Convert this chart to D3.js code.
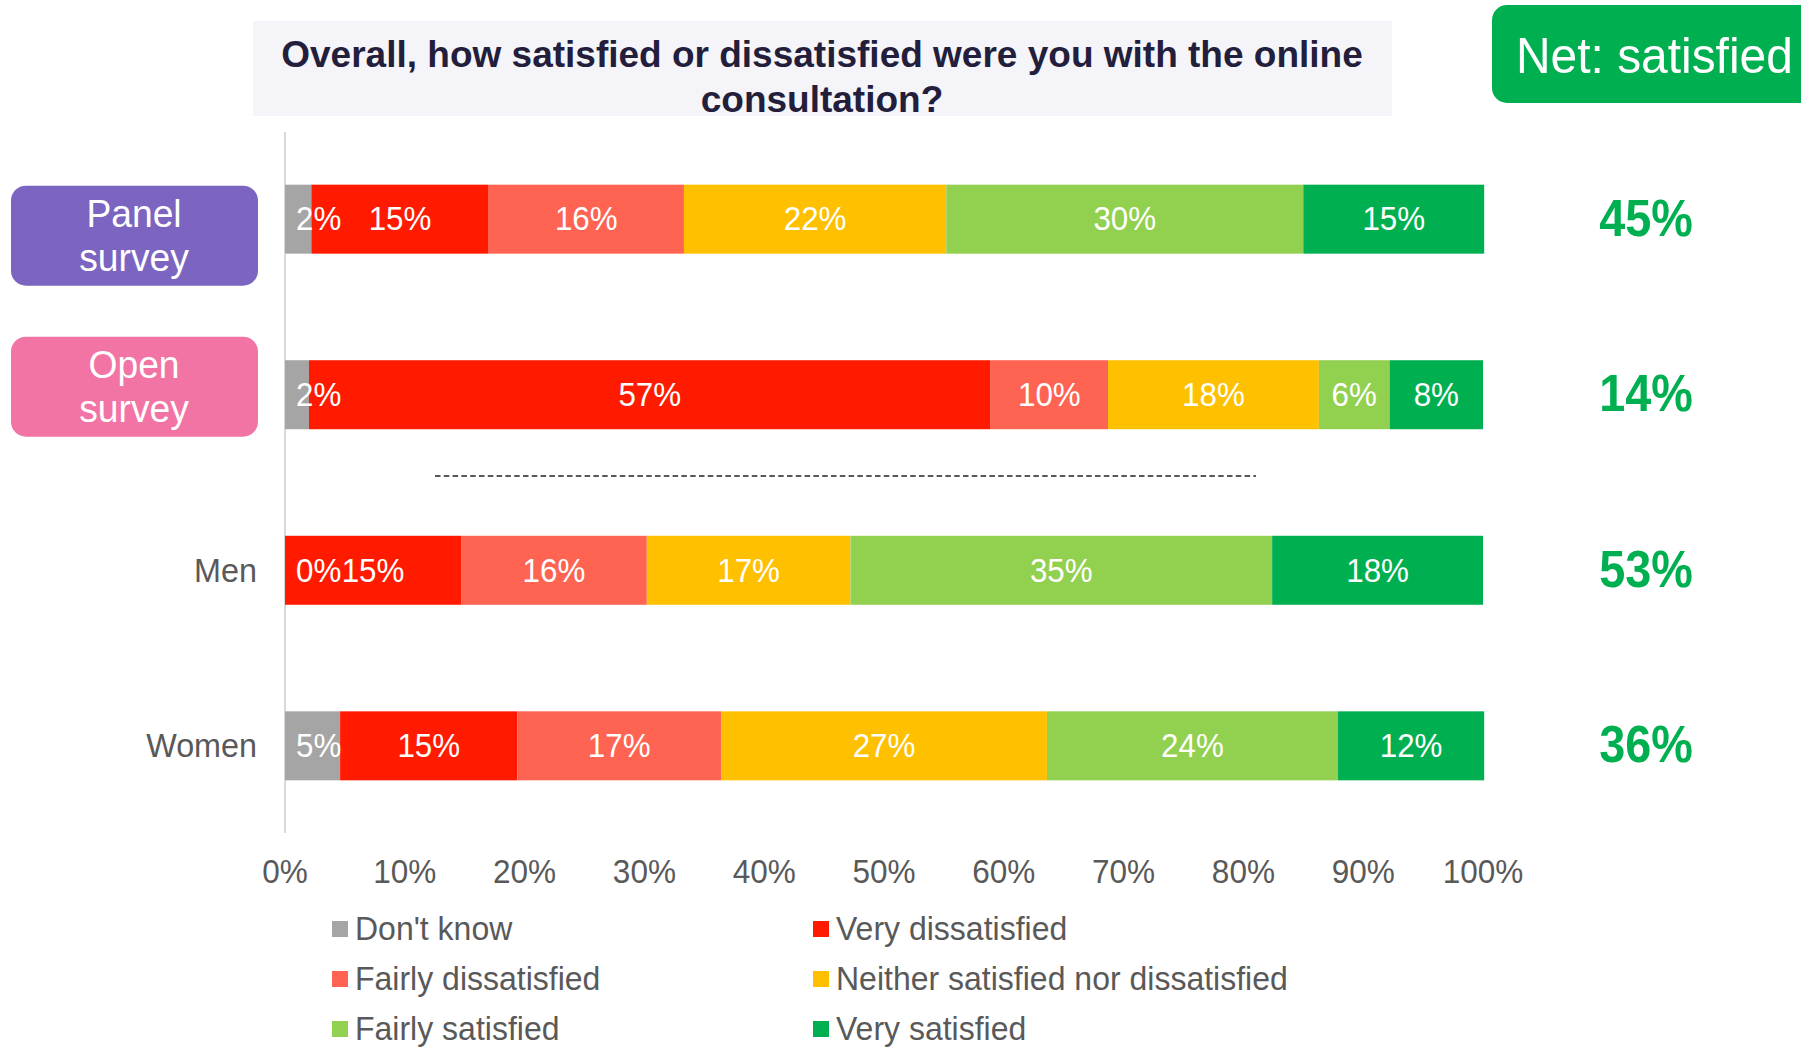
<!DOCTYPE html>
<html>
<head>
<meta charset="utf-8">
<script src="https://cdn.jsdelivr.net/npm/d3@7"></script>
<style>
  html, body { margin: 0; padding: 0; background: #ffffff; }
  svg { display: block; }
  text { font-family: "Liberation Sans", Arial, sans-serif; }
</style>
</head>
<body>
<svg id="chart" width="1801" height="1050"></svg>
<script>
// ---------------- DATA ----------------
const categories = ["Panel survey", "Open survey", "Men", "Women"];
const seriesNames = ["Don't know", "Very dissatisfied", "Fairly dissatisfied",
  "Neither satisfied nor dissatisfied", "Fairly satisfied", "Very satisfied"];
const dontKnow           = [2.2, 2.0, 0.0, 4.6];
const veryDissatisfied   = [14.8, 56.9, 14.7, 14.8];
const fairlyDissatisfied = [16.3, 9.8, 15.5, 17.0];
const neitherNor         = [21.9, 17.6, 17.0, 27.2];
const fairlySatisfied    = [29.8, 5.9, 35.2, 24.3];
const verySatisfied      = [15.1, 7.8, 17.6, 12.2];
const netSatisfied       = [45, 14, 53, 36];
const tickValues         = [0, 10, 20, 30, 40, 50, 60, 70, 80, 90, 100];
const titleLines = ["Overall, how satisfied or dissatisfied were you with the online", "consultation?"];
const netTitle = "Net: satisfied";

// ---------------- STYLE ----------------
const colors = ["#a5a5a5", "#ff1a00", "#ff6352", "#ffc000", "#92d050", "#00b050"];
const SX = 0.96; // horizontal compression of text to mimic the reference rendering

const seriesArrays = [dontKnow, veryDissatisfied, fairlyDissatisfied, neitherNor, fairlySatisfied, verySatisfied];
const table = categories.map((c, i) => {
  const row = { category: c };
  seriesNames.forEach((s, j) => { row[s] = seriesArrays[j][i]; });
  return row;
});

const svg = d3.select("#chart");

const x = d3.scaleLinear().domain([0, 100]).range([285, 1483]);
const y = d3.scaleBand().domain(categories).range([132, 833]).paddingInner(0.607).paddingOuter(0.3);

function addText(parent, px, py, str, opts) {
  const sx = opts.sx || SX;
  const g = parent.append("g").attr("transform", `translate(${px},${py}) scale(${sx},1)`);
  const t = g.append("text")
    .attr("x", 0).attr("y", 0)
    .attr("text-anchor", opts.anchor || "middle")
    .attr("dominant-baseline", "central")
    .style("font-size", opts.size + "px")
    .style("font-weight", opts.weight || "normal")
    .style("fill", opts.fill || "#595959")
    .text(str);
  return t;
}

// Title box
svg.append("rect").attr("x", 253).attr("y", 21).attr("width", 1139).attr("height", 95).attr("fill", "#f5f4f9");
titleLines.forEach((l, i) => {
  addText(svg, 822, 54 + i * 45, l, { size: 37, weight: "bold", fill: "#221e3b", sx: 1.0 });
});

// Net box
svg.append("rect").attr("x", 1492).attr("y", 5).attr("width", 330).attr("height", 98).attr("rx", 15).attr("fill", "#00b050");
addText(svg, 1516, 56, netTitle, { size: 50, fill: "#ffffff", anchor: "start", sx: 0.958 });

// Vertical axis line
svg.append("line").attr("x1", x(0)).attr("x2", x(0)).attr("y1", 132).attr("y2", 833)
  .attr("stroke", "#d9d9d9").attr("stroke-width", 2);

// Stacked bars
const stack = d3.stack().keys(seriesNames);
const stacked = stack(table);
const layers = svg.append("g").selectAll("g").data(stacked).join("g")
  .attr("fill", (d, i) => colors[i]);
layers.selectAll("rect").data(d => d).join("rect")
  .attr("x", d => x(d[0]))
  .attr("width", d => x(d[1]) - x(d[0]))
  .attr("y", d => y(d.data.category))
  .attr("height", y.bandwidth());

// Bar value labels
const labelG = svg.append("g");
stacked.forEach((layer) => {
  layer.forEach(d => {
    const val = d[1] - d[0];
    const txt = Math.round(val) + "%";
    let cx = (x(d[0]) + x(d[1])) / 2;
    const cy = y(d.data.category) + y.bandwidth() / 2;
    const t = addText(labelG, cx, cy, txt, { size: 33, fill: "#ffffff", sx: 0.95 });
    const w = t.node().getComputedTextLength() * 0.95;
    const minX = x(0) + w / 2 + 11;
    if (cx < minX) {
      cx = minX;
      d3.select(t.node().parentNode).attr("transform", `translate(${cx},${cy}) scale(0.95,1)`);
    }
  });
});

// X axis tick labels
const axisG = svg.append("g");
tickValues.forEach(v => {
  addText(axisG, x(v), 872, v + "%", { size: 33, fill: "#595959", sx: 0.955 });
});

// Category labels
const boxStyles = {
  "Panel survey": { fill: "#7b65c0", dy: 16.5, lines: ["Panel", "survey"] },
  "Open survey": { fill: "#f274a4", dy: -8, lines: ["Open", "survey"] }
};
categories.forEach(c => {
  const cy = y(c) + y.bandwidth() / 2;
  const bs = boxStyles[c];
  if (bs) {
    const bc = cy + bs.dy;
    svg.append("rect").attr("x", 11).attr("y", bc - 50).attr("width", 247).attr("height", 100)
      .attr("rx", 15).attr("fill", bs.fill);
    bs.lines.forEach((l, i) => {
      addText(svg, 134, bc - 22 + i * 44, l, { size: 38, fill: "#ffffff", sx: 0.98 });
    });
  } else {
    addText(svg, 257, cy, c, { size: 33, fill: "#595959", anchor: "end", sx: 0.98 });
  }
});

// Net satisfied values
categories.forEach((c, i) => {
  const cy = y(c) + y.bandwidth() / 2;
  addText(svg, 1646, cy - 2, netSatisfied[i] + "%", { size: 52, weight: "bold", fill: "#00b050", sx: 0.9 });
});

// Dashed separator
svg.append("line").attr("x1", 435).attr("x2", 1256).attr("y1", 476).attr("y2", 476)
  .attr("stroke", "#595959").attr("stroke-width", 2).attr("stroke-dasharray", "5.5,3.3");

// Legend
const legendG = svg.append("g");
seriesNames.forEach((s, i) => {
  const col = i % 2, row = Math.floor(i / 2);
  const lx = col === 0 ? 332 : 813;
  const ly = 929 + row * 50;
  legendG.append("rect").attr("x", lx).attr("y", ly - 8).attr("width", 16).attr("height", 16).attr("fill", colors[i]);
  addText(legendG, lx + 23, ly, s, { size: 33, fill: "#595959", anchor: "start", sx: 0.97 });
});
</script>
</body>
</html>
